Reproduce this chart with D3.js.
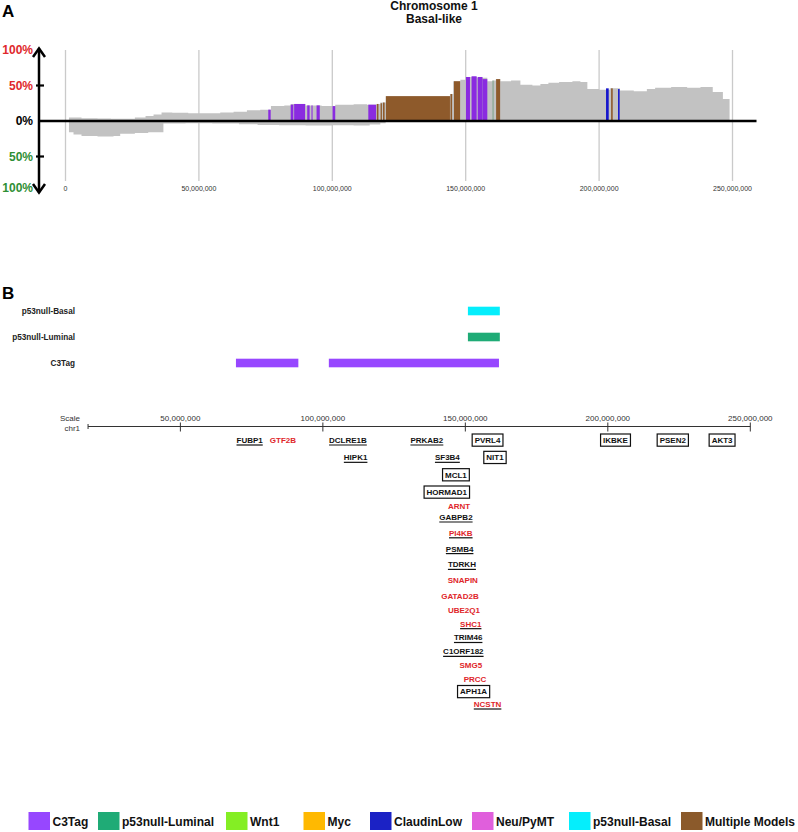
<!DOCTYPE html>
<html><head><meta charset="utf-8">
<script src="https://cdn.jsdelivr.net/npm/d3@7"></script>
<style>body{margin:0;background:#fff}svg{display:block}</style>
</head><body><svg id="c" width="798" height="832"></svg>
<script>
// ---------------- DATA ----------------
// Panel A: frequency profile (Mb start of each step, % of samples)
const gainStartMb = [1.3,6,12,17,26,30,33,36,40,46,52,58,63,68,73,77,82,84.4,90,96,101.1,108,113,116.5,118,120,144.1,145.3,148,150,154.3,158.1,160,161.3,163,167,170.5,175,178,181,185,190,193,195.6,200,204,207.8,213,217.9,221,227,233,238,242.6,246.4];
const gainPct     = [5,4,3.5,3,5,7,9,12,11.5,11,11,12,13,15,16,21,22,24,22,21,23,23.5,23,24,26,35,38,56,58,62,61,56,57,59,56,57,51,50,52,54,55,56,55,45,44,46,43,42,45,47,48,47,48,41,31];
const lossStartMb = [1.3,3,6,12,18,20.5,26,31,36.7,45,55,65,72,80,90,100,108,114,118,120,150];
const lossPct     = [16,19,21,22,21,18,17,16,3.5,3,3.5,4.5,5.5,6,6.5,6,6.5,5,3,1.5,1.5];
const dataEndMb = 248.9;
// highlighted significant regions in panel A
const hlStartMb = [76.0,84.4,85.7,90.6,92.2,94.1,100.1,113.5,116.7,118.1,119.0,120.1,144.3,145.6,150.1,152.2,154.5,156.3,160.1,161.4,202.6,204.5,207.1];
const hlEndMb   = [76.9,85.4,89.8,91.5,92.6,95.3,101.1,116.4,117.3,118.6,119.6,144.1,144.9,147.9,151.6,154.1,156.3,158.1,160.4,162.9,203.6,205.1,207.7];
const hlModel   = ["C3Tag","C3Tag","C3Tag","C3Tag","C3Tag","C3Tag","C3Tag","C3Tag","Multiple Models","Multiple Models","Multiple Models","Multiple Models","Multiple Models","Multiple Models","C3Tag","C3Tag","C3Tag","C3Tag","p53null-Luminal","Multiple Models","ClaudinLow","Multiple Models","ClaudinLow"];
const hlPct     = [16,23,24,22,22,22,21,23,24,25,26,35,38,56,62,63,62,59,57,59,46,46,45];
const genomeTicksMb = [0,50,100,150,200,250];
const pctTicks  = [100,50,0,-50,-100];
const pctLabels = ["100%","50%","0%","50%","100%"];
const titleLines = ["Chromosome 1","Basal-like"];

// Panel B: model regions
const trackNames = ["p53null-Basal","p53null-Luminal","C3Tag"];
const regionTrack = ["p53null-Basal","p53null-Luminal","C3Tag","C3Tag"];
const regionStartMb = [150.9,150.9,69.5,102.1];
const regionEndMb   = [162.1,162.1,91.4,161.8];
const scaleTicksMb = [50,100,150,200,250];
const scaleStartMb = 17.6;
// genes
const geneNames = ["FUBP1","GTF2B","DCLRE1B","PRKAB2","PVRL4","IKBKE","PSEN2","AKT3","HIPK1","SF3B4","NIT1","MCL1","HORMAD1","ARNT","GABPB2","PI4KB","PSMB4","TDRKH","SNAPIN","GATAD2B","UBE2Q1","SHC1","TRIM46","C1ORF182","SMG5","PRCC","APH1A","NCSTN"];
const geneMb    = [74.3,86.0,108.8,136.5,157.8,202.7,222.8,240.1,111.5,143.7,160.4,146.7,143.5,147.8,146.7,148.4,148.0,148.8,149.1,148.1,149.5,151.9,151.0,149.3,151.9,153.4,152.9,157.8];
const geneRow   = [0,0,0,0,0,0,0,0,1,1,1,2,3,4,5,6,7,8,9,10,11,12,13,14,15,16,17,18];
const geneMark  = ["u","p","u","u","b","b","b","b","u","u","b","b","b","p","u","u","u","u","p","p","p","u","u","u","p","p","b","u"];
const geneRed   = [0,1,0,0,0,0,0,0,0,0,0,0,0,1,0,1,0,0,1,1,1,1,0,0,1,1,0,1];
// legend
const modelNames = ["C3Tag","p53null-Luminal","Wnt1","Myc","ClaudinLow","Neu/PyMT","p53null-Basal","Multiple Models"];

// ---------------- STYLE / LAYOUT ----------------
const FONT = "'Liberation Sans', Arial, Helvetica, sans-serif";
const modelColor = d3.scaleOrdinal().domain(modelNames)
  .range(["#9747ff","#1fab76","#84ee24","#ffb901","#1b22c5","#e05fdc","#05eefc","#8b5a2b"]);
const panelAColor = d3.scaleOrdinal().domain(modelNames)
  .range(["#8a2be0","#6a9a78","#84ee24","#ffb901","#1616cc","#e05fdc","#05eefc","#8e5a2b"]);
const legendX = [28.5,98,226,303.5,370,472,569,681];

const svg = d3.select("#c").style("font-family", FONT);

// ---------------- PANEL A ----------------
const xA = d3.scaleLinear().domain([0,250e6]).range([65.5,732.5]);
const yA = d3.scaleLinear().domain([-100,100]).range([192,50]);
const gA = svg.append("g");

gA.append("text").attr("x",2).attr("y",16.5).attr("font-size",17).attr("font-weight","bold").text("A");
gA.selectAll("text.title").data(titleLines).join("text").attr("class","title")
  .attr("x",434).attr("y",(d,i)=>10+i*12.7).attr("text-anchor","middle")
  .attr("font-size",12).attr("font-weight","bold").attr("fill","#111").text(d=>d);

// gridlines
gA.selectAll("line.grid").data(genomeTicksMb).join("line").attr("class","grid")
  .attr("x1",d=>xA(d*1e6)).attr("x2",d=>xA(d*1e6)).attr("y1",50).attr("y2",181)
  .attr("stroke","#cacaca").attr("stroke-width",1.3);
gA.selectAll("text.gtick").data(genomeTicksMb).join("text").attr("class","gtick")
  .attr("x",d=>xA(d*1e6)).attr("y",190.5).attr("text-anchor","middle")
  .attr("font-size",7).attr("fill","#333").text(d=>d3.format(",")(d*1e6));

// area profiles
const gainPts = gainStartMb.map((s,i)=>({x:s,v:gainPct[i]})); gainPts.push({x:dataEndMb,v:gainPct[gainPct.length-1]});
const lossPts = lossStartMb.map((s,i)=>({x:s,v:lossPct[i]})); lossPts.push({x:dataEndMb,v:lossPct[lossPct.length-1]});
const areaGain = d3.area().x(d=>xA(d.x*1e6)).y0(yA(0)).y1(d=>yA(d.v)).curve(d3.curveStepAfter);
const areaLoss = d3.area().x(d=>xA(d.x*1e6)).y0(yA(0)).y1(d=>yA(-d.v)).curve(d3.curveStepAfter);
gA.append("path").attr("d",areaGain(gainPts)).attr("fill","#c2c2c2");
gA.append("path").attr("d",areaLoss(lossPts)).attr("fill","#c2c2c2");

// highlighted regions
const hl = hlStartMb.map((s,i)=>({s,e:hlEndMb[i],m:hlModel[i],v:hlPct[i]}));
gA.selectAll("rect.hl").data(hl).join("rect").attr("class","hl")
  .attr("x",d=>xA(d.s*1e6)).attr("width",d=>Math.max(0.8,xA(d.e*1e6)-xA(d.s*1e6)))
  .attr("y",d=>yA(d.v)).attr("height",d=>yA(0)-yA(d.v))
  .attr("fill",d=>panelAColor(d.m));

// baseline & y axis
gA.append("line").attr("x1",38).attr("x2",xA(259e6)).attr("y1",yA(0)).attr("y2",yA(0))
  .attr("stroke","#000").attr("stroke-width",2.6);
const axX = 39;
gA.append("line").attr("x1",axX).attr("x2",axX).attr("y1",yA(100)-1.5).attr("y2",yA(-100)+0.5)
  .attr("stroke","#000").attr("stroke-width",2.5);
gA.append("path").attr("d",`M${axX-6},${yA(100)+7} L${axX},${yA(100)-1.5} L${axX+6},${yA(100)+7}`)
  .attr("fill","none").attr("stroke","#000").attr("stroke-width",2.5);
gA.append("path").attr("d",`M${axX-6},${yA(-100)-8} L${axX},${yA(-100)+0.5} L${axX+6},${yA(-100)-8}`)
  .attr("fill","none").attr("stroke","#000").attr("stroke-width",2.5);
gA.selectAll("line.ytick").data([50,-50]).join("line").attr("class","ytick")
  .attr("x1",axX-3).attr("x2",axX+5).attr("y1",d=>yA(d)).attr("y2",d=>yA(d))
  .attr("stroke","#000").attr("stroke-width",2.2);
gA.selectAll("text.ylab").data(pctTicks).join("text").attr("class","ylab")
  .attr("x",33).attr("y",(d,i)=>yA(d)+(d===-100?-4:0)).attr("dy","0.36em").attr("text-anchor","end")
  .attr("font-size",12).attr("font-weight","bold")
  .attr("fill",d=>d>0?"#e0282c":(d<0?"#2f8f35":"#000")).text((d,i)=>pctLabels[i]);

// ---------------- PANEL B ----------------
const xB = d3.scaleLinear().domain([0,250e6]).range([37.9,750.3]);
const yTrack = d3.scalePoint().domain(trackNames).range([311,363]);
const gB = svg.append("g");
gB.append("text").attr("x",2).attr("y",298.5).attr("font-size",17).attr("font-weight","bold").text("B");
gB.selectAll("text.track").data(trackNames).join("text").attr("class","track")
  .attr("x",75).attr("y",d=>yTrack(d)).attr("dy","0.36em").attr("text-anchor","end")
  .attr("font-size",8.2).attr("font-weight","bold").attr("fill","#222").text(d=>d);
const regions = regionStartMb.map((s,i)=>({s,e:regionEndMb[i],t:regionTrack[i]}));
gB.selectAll("rect.reg").data(regions).join("rect").attr("class","reg")
  .attr("x",d=>xB(d.s*1e6)).attr("width",d=>xB(d.e*1e6)-xB(d.s*1e6))
  .attr("y",d=>yTrack(d.t)-4.3).attr("height",8.6).attr("fill",d=>modelColor(d.t));

// scale ruler
const yS = 426.5;
gB.append("line").attr("x1",xB(scaleStartMb*1e6)).attr("x2",xB(250e6)).attr("y1",yS).attr("y2",yS)
  .attr("stroke","#333").attr("stroke-width",1);
gB.append("line").attr("x1",xB(scaleStartMb*1e6)).attr("x2",xB(scaleStartMb*1e6)).attr("y1",yS-2.5).attr("y2",yS+2.5)
  .attr("stroke","#333").attr("stroke-width",1);
gB.selectAll("line.stick").data(scaleTicksMb).join("line").attr("class","stick")
  .attr("x1",d=>xB(d*1e6)).attr("x2",d=>xB(d*1e6)).attr("y1",yS-4).attr("y2",yS+5)
  .attr("stroke","#333").attr("stroke-width",1);
gB.selectAll("text.slab").data(scaleTicksMb).join("text").attr("class","slab")
  .attr("x",d=>xB(d*1e6)).attr("y",420.5).attr("text-anchor","middle")
  .attr("font-size",8).attr("fill","#333").text(d=>d3.format(",")(d*1e6));
gB.append("text").attr("x",80).attr("y",421).attr("text-anchor","end").attr("font-size",8).attr("fill","#333").text("Scale");
gB.append("text").attr("x",80).attr("y",430.5).attr("text-anchor","end").attr("font-size",8).attr("fill","#333").text("chr1");

// genes
const yRow = d3.scaleLinear().domain([0,3,4,5,10,16,18]).range([440,492,506,517,596,679,704]);
const genes = geneNames.map((n,i)=>({n,mb:geneMb[i],row:geneRow[i],mark:geneMark[i],red:geneRed[i]}));
const gg = gB.selectAll("g.gene").data(genes).join("g").attr("class","gene");
gg.append("text").attr("x",d=>xB(d.mb*1e6)).attr("y",d=>yRow(d.row)+2.9).attr("text-anchor","middle")
  .attr("font-size",8).attr("font-weight","bold").attr("fill",d=>d.red?"#e0262a":"#111").text(d=>d.n);
gg.each(function(d){
  const g = d3.select(this);
  const w = g.select("text").node().getComputedTextLength();
  const cx = xB(d.mb*1e6), cy = yRow(d.row);
  if (d.mark==="u") {
    g.append("line").attr("x1",cx-w/2).attr("x2",cx+w/2).attr("y1",cy+5).attr("y2",cy+5)
      .attr("stroke","#111").attr("stroke-width",1.2);
  } else if (d.mark==="b") {
    g.append("rect").attr("x",cx-w/2-2.5).attr("y",cy-6).attr("width",w+5).attr("height",12.2)
      .attr("fill","none").attr("stroke","#111").attr("stroke-width",1.2);
  }
});

// ---------------- LEGEND ----------------
const lg = svg.selectAll("g.leg").data(modelNames).join("g").attr("class","leg")
  .attr("transform",(d,i)=>`translate(${legendX[i]},812)`);
lg.append("rect").attr("width",21.5).attr("height",18).attr("fill",d=>modelColor(d));
lg.append("text").attr("x",24).attr("y",14).attr("font-size",12).attr("font-weight","bold").attr("fill","#111").text(d=>d);
</script>
</body></html>
